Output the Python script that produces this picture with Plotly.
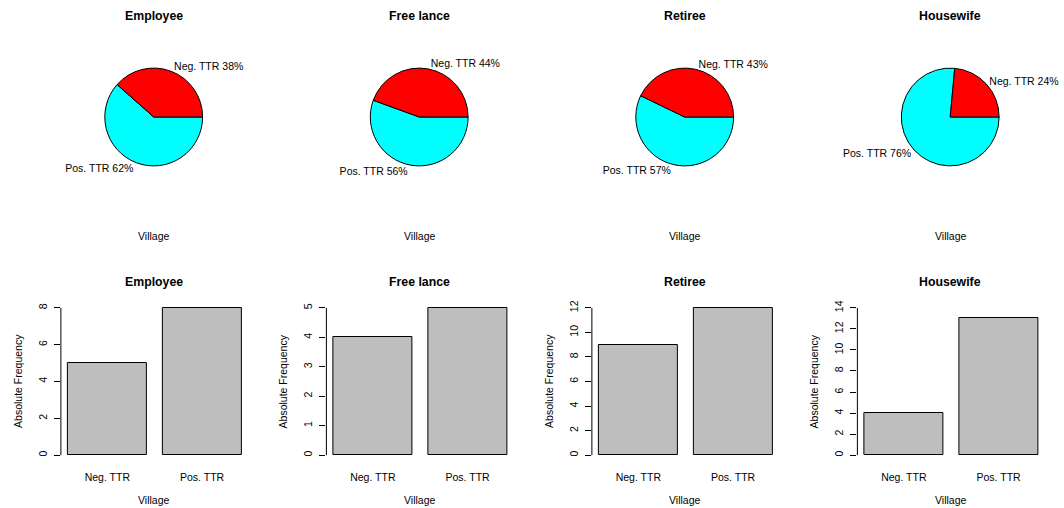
import plotly.graph_objects as go

# ---- data ----
groups = ["Employee", "Free lance", "Retiree", "Housewife"]
categories = ["Neg. TTR", "Pos. TTR"]
neg_ttr = [5, 4, 9, 4]
pos_ttr = [8, 5, 12, 13]
y_max_tick = [8, 5, 12, 14]
y_dtick = [2, 1, 2, 2]
x_label = "Village"
y_label = "Absolute Frequency"
slice_colors = {"Neg. TTR": "#FF0000", "Pos. TTR": "#00FFFF"}

# ---- layout helpers (pixel geometry of a 1064x508 canvas) ----
W, H = 1064, 508
COL = 266
FONT = "Liberation Sans, Arial, Helvetica, sans-serif"
FS = 10.5


def px(x):
    return x / W


def py(y):
    return 1 - y / H


fig = go.Figure()
annotations = []
shapes = []

for c, g in enumerate(groups):
    off = COL * c
    cx = 154 + off
    vals = [neg_ttr[c], pos_ttr[c]]

    # ---- pie (top row); order reversed so that Neg. TTR sits counterclockwise of 3 o'clock ----
    r = 49
    pie_labels = categories[::-1]
    pie_vals = vals[::-1]
    fig.add_trace(go.Pie(
        values=pie_vals,
        labels=pie_labels,
        sort=False,
        direction="counterclockwise",
        rotation=90,
        marker=dict(colors=[slice_colors[l] for l in pie_labels],
                    line=dict(color="black", width=1)),
        textposition="outside",
        texttemplate="%{label} %{percent:.0%}",
        textfont=dict(family=FONT, size=FS, color="black"),
        domain=dict(x=[px(cx - r), px(cx + r)], y=[py(117 + r), py(117 - r)]),
        showlegend=False,
        hoverinfo="label+value+percent",
    ))
    annotations.append(dict(text="<b>%s</b>" % g, x=px(cx), y=py(16), xref="paper", yref="paper",
                            showarrow=False, xanchor="center", yanchor="middle",
                            font=dict(family=FONT, size=12.3, color="black")))
    annotations.append(dict(text=x_label, x=px(cx), y=py(236), xref="paper", yref="paper",
                            showarrow=False, xanchor="center", yanchor="middle",
                            font=dict(family=FONT, size=FS, color="black")))

    # ---- bar (bottom row) ----
    i = c + 1
    xa = "x" if i == 1 else "x%d" % i
    ya = "y" if i == 1 else "y%d" % i
    fig.add_trace(go.Bar(
        x=categories, y=vals, xaxis=xa, yaxis=ya,
        width=1 / 1.2,
        marker=dict(color="#BEBEBE", line=dict(color="black", width=1)),
        showlegend=False,
    ))
    M = y_max_tick[c]
    fig.layout["xaxis%s" % ("" if i == 1 else i)] = dict(
        domain=[px(61 + off), px(249 + off)],
        anchor=ya, range=[-0.49, 1.49],
        showgrid=False, zeroline=False, showline=False, ticks="",
        ticklabelstandoff=8,
        tickfont=dict(family=FONT, size=FS, color="black"),
        automargin=False, fixedrange=True,
    )
    fig.layout["yaxis%s" % ("" if i == 1 else i)] = dict(
        domain=[py(461), py(302)],
        anchor=xa, range=[-0.04 * M, 1.04 * M],
        tick0=0, dtick=y_dtick[c],
        showgrid=False, zeroline=False, showline=False,
        ticks="outside", ticklen=6, tickcolor="black", tickwidth=1,
        tickangle=-90, ticklabelstandoff=3,
        tickfont=dict(family=FONT, size=FS, color="black"),
        automargin=False, fixedrange=True,
    )
    shapes.append(dict(type="line", xref="%s domain" % xa, yref=ya,
                       x0=0, x1=0, y0=0, y1=M, line=dict(color="black", width=1)))
    annotations.append(dict(text="<b>%s</b>" % g, x=px(cx), y=py(282), xref="paper", yref="paper",
                            showarrow=False, xanchor="center", yanchor="middle",
                            font=dict(family=FONT, size=12.3, color="black")))
    annotations.append(dict(text=x_label, x=px(cx), y=py(500), xref="paper", yref="paper",
                            showarrow=False, xanchor="center", yanchor="middle",
                            font=dict(family=FONT, size=FS, color="black")))
    annotations.append(dict(text=y_label, x=px(18 + off), y=py(381), xref="paper", yref="paper",
                            showarrow=False, xanchor="center", yanchor="middle", textangle=-90,
                            font=dict(family=FONT, size=FS, color="black")))

fig.update_layout(
    width=W, height=H,
    margin=dict(l=0, r=0, t=0, b=0),
    paper_bgcolor="white", plot_bgcolor="white",
    annotations=annotations, shapes=shapes,
    bargap=0,
)

fig.write_html("out.html", config={"displayModeBar": False},
               post_script="document.body.style.margin='0';")
